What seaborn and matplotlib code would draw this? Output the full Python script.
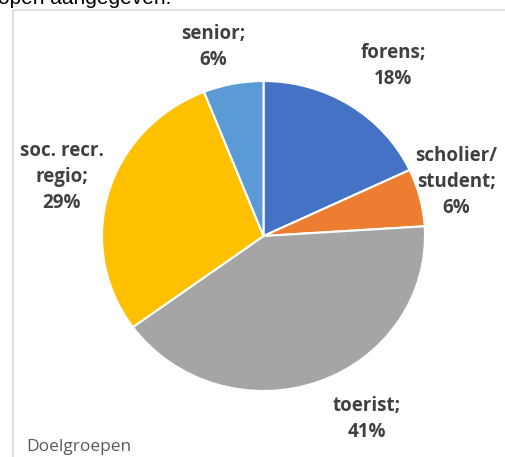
import matplotlib
matplotlib.use("Agg")
import matplotlib.pyplot as plt
import seaborn as sns

categories = ["forens", "scholier/\nstudent", "toerist", "soc. recr.\nregio", "senior"]
values = [18, 6, 41, 29, 6]
pct_labels = ["18%", "6%", "41%", "29%", "6%"]
colors = ["#4472C4", "#ED7D31", "#A5A5A5", "#FFC000", "#5B9BD5"]
title_text = "Doelgroepen"

sns.set_theme(style="white")
plt.rcParams["font.family"] = ["Open Sans", "DejaVu Sans"]

W, H = 505, 457
fig = plt.figure(figsize=(W / 100, H / 100), dpi=100)
fig.patch.set_facecolor("white")

def fx(px):
    return px / W

def fy(py):
    return 1 - py / H

# frame of chart area
frame = plt.Line2D([fx(12.5), fx(12.5), fx(505)], [fy(457), fy(9.5), fy(9.5)],
                   transform=fig.transFigure, color="#D9D9D9", lw=1.2)
fig.add_artist(frame)

# cut-off text from the document above
fig.text(fx(-2), fy(4), "open aangegeven.", fontsize=15, color="black",
         family=["Liberation Sans"], ha="left", va="baseline")

# pie axes
left, right, top, bottom = 102, 425, 81, 391
ax = fig.add_axes([fx(left), fy(bottom), (right - left) / W, (bottom - top) / H])
ax.pie(values, colors=colors, startangle=90, counterclock=False,
       wedgeprops=dict(edgecolor="white", linewidth=1.5), radius=1)
ax.set_xlim(-1, 1)
ax.set_ylim(-1, 1)
ax.set_aspect("auto")
ax.axis("off")

# label positions (pixel centres)
label_pos = [(393, 66), (456, 182), (367, 419), (62, 177), (213, 47)]
for cat, pct, (px, py) in zip(categories, pct_labels, label_pos):
    fig.text(fx(px), fy(py), f"{cat};\n{pct}", ha="center", va="center",
             fontsize=13.5, fontweight="bold", color="#404040", linespacing=1.4)

fig.text(fx(26), fy(447), title_text, ha="left", va="center", fontsize=12.5,
         color="#595959")

fig.savefig("out.png", dpi=100, facecolor="white")
